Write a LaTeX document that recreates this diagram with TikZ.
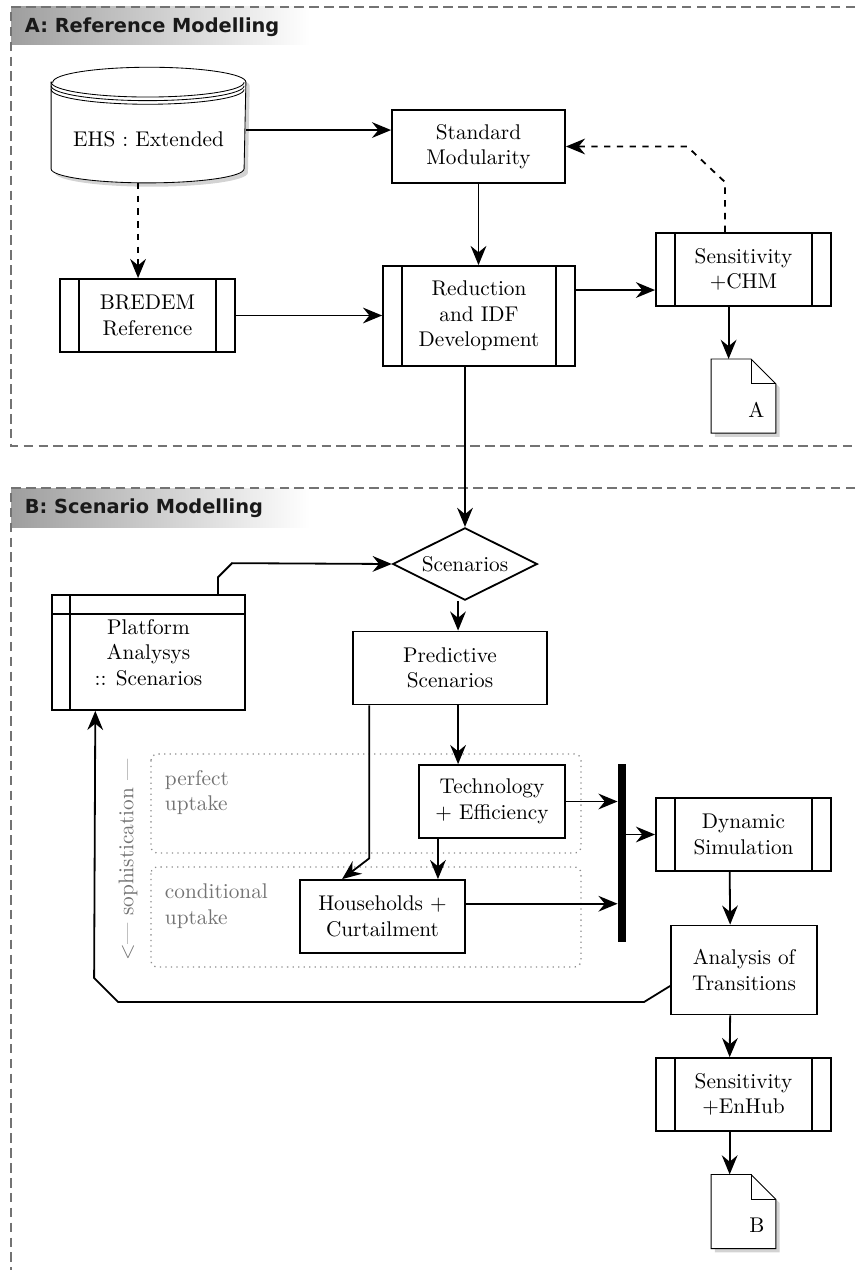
\documentclass[tikz,border=0pt]{standalone}
\usepackage{fontspec}
\newfontfamily\titlefont{DejaVu Sans}
\usetikzlibrary{arrows.meta,shapes.geometric,shadows}

\pgfdeclarelayer{background}
\pgfsetlayers{background,main}

\tikzset{
  box/.style={draw, align=center, minimum height=34.3pt},
  proc/.style={box, path picture={
      \draw ([xshift=8.9pt]path picture bounding box.north west) -- ([xshift=8.9pt]path picture bounding box.south west);
      \draw ([xshift=-8.9pt]path picture bounding box.north east) -- ([xshift=-8.9pt]path picture bounding box.south east);}},
  store/.style={box, path picture={
      \draw ([xshift=8.5pt]path picture bounding box.north west) -- ([xshift=8.5pt]path picture bounding box.south west);
      \draw ([yshift=-9pt]path picture bounding box.north west) -- ([yshift=-9pt]path picture bounding box.north east);}},
  decision/.style={draw, diamond, aspect=2, inner sep=0pt, minimum width=68pt, minimum height=34pt},
  docbox/.style={minimum width=29.6pt, minimum height=34pt},
  arr/.style={-{Stealth[length=9pt,width=7.4pt,inset=3pt]}},
  panelframe/.style={draw=black!55, dash pattern=on 4.5pt off 2.5pt, line width=0.6pt},
  zone/.style={draw=black!45, dotted, rounded corners=3pt, line width=0.6pt},
  note/.style={text=black!55, align=left, anchor=north west},
  paneltitle/.style={font=\titlefont\bfseries\fontsize{9.1}{11}\selectfont, anchor=west, text=black!90},
  softshadow/.style={drop shadow={opacity=0.35, shadow xshift=1.8pt, shadow yshift=-1.8pt}},
}

% page outline with folded corner
\newcommand{\docoutline}[1]{%
  \filldraw[fill=white, softshadow] (#1.south west) -- (#1.north west) -- ([xshift=-11.7pt]#1.north east)
    -- ([yshift=-11.7pt]#1.north east) -- (#1.south east) -- cycle;
  \draw ([xshift=-11.7pt]#1.north east) |- ([yshift=-11.7pt]#1.north east);}

\begin{document}
\begin{tikzpicture}[x=0.47pt, y=-0.47pt, line width=0.85pt]
    \useasboundingbox (0,0) rectangle (855,1270);

    % A: reference modelling
    \node[paneltitle] (titleA) at (17,27) {A: Reference Modelling};
    \node[minimum width=90.7pt, minimum height=40.4pt] (ehs) at (148.5,139) {EHS : Extended};
    \node[box, minimum width=81.3pt] (std) at (478.5,146.5) {Standard\\Modularity};
    \node[proc, minimum width=82.3pt] (bredem) at (147.5,315.5) {BREDEM\\Reference};
    \node[proc, minimum width=90.2pt, minimum height=47pt] (red) at (479,316) {Reduction\\and IDF\\Development};
    \node[proc, minimum width=82.3pt] (sens) at (743.5,269.5) {Sensitivity\\+CHM};
    \node[docbox, label={[anchor=south east, xshift=-5pt, yshift=7pt, inner sep=0pt]south east:A}] (docA) at (743.5,396) {};

    \draw[arr] ([yshift=4.2pt]ehs.east) -- ([yshift=4.2pt]ehs.east -| std.west);
    \draw[arr, dashed] ([xshift=-4.9pt]ehs.south) -- ([xshift=-4.9pt]ehs.south |- bredem.north);
    \draw[arr] (std.south) -- (std.south |- red.north);
    \draw[arr] (bredem.east) -- (bredem.east -| red.west);
    \draw[arr] ([yshift=12.2pt]red.east) -- ([yshift=12.2pt]red.east -| sens.west);
    \draw[arr, dashed] ([xshift=-8.7pt]sens.north) -- ++(0,-50) -- ([xshift=57pt]std.east) -- (std.east);
    \draw[arr] ([xshift=-7pt]sens.south) -- ([xshift=-7pt]docA.north);

    % B: scenario modelling
    \node[paneltitle] (titleB) at (17,508) {B: Scenario Modelling};
    \node[decision] (scen) at (465,564) {Scenarios};
    \node[box, minimum width=91.2pt] (pred) at (450,668) {Predictive\\Scenarios};
    \node[store, minimum width=90.7pt, minimum height=54pt] (plat) at (148.5,652.5) {Platform\\Analysys\\:: Scenarios};
    \node[box, minimum width=68.6pt] (tech) at (492,801.5) {Technology\\+ Efficiency};
    \node[box, minimum width=77.5pt] (hh) at (382.5,916.5) {Households +\\Curtailment};
    \node[fill=black, inner sep=0pt, minimum width=3.3pt, minimum height=83.7pt] (bar) at (622,853) {};
    \node[proc, minimum width=82.3pt] (dyn) at (743.5,834.5) {Dynamic\\Simulation};
    \node[box, minimum width=68.6pt, minimum height=41.8pt] (ana) at (744,970) {Analysis of\\Transitions};
    \node[proc, minimum width=82.3pt] (sensB) at (743.5,1094.5) {Sensitivity\\+EnHub};
    \node[docbox, label={[anchor=south east, xshift=-5pt, yshift=7pt, inner sep=0pt]south east:B}] (docB) at (743.5,1211.5) {};

    \node[note] (perfect) at (157,762) {perfect\\uptake};
    \node[note] (cond) at (157,876) {conditional\\uptake};
    \node[text=black!55, rotate=90] (soph) at (128,860) {<--- sophistication ---};

    \draw[arr] (scen.north |- red.south) -- (scen.north);
    \draw[arr] ([xshift=-3.3pt]scen.south) -- ([xshift=3.8pt]pred.north);
    \draw[arr] ([xshift=32.7pt]plat.north) -- ++(0,-17) -- ++(14,-14) -- (scen.west);
    \draw[arr] ([xshift=3.8pt]pred.south) -- ([xshift=3.8pt]pred.south |- tech.north);
    \draw[arr] ([xshift=-38pt]pred.south) -- ++(0,153) -- ([xshift=-19pt]hh.north);
    \draw[arr] ([xshift=-25.4pt]tech.south) -- ([xshift=-25.4pt]tech.south |- hh.north);
    \draw[arr] (tech.east) -- (tech.east -| bar.west);
    \draw[arr] ([yshift=6pt]hh.east) -- ([yshift=6pt]hh.east -| bar.west);
    \draw[arr] (bar.east |- dyn.west) -- (dyn.west);
    \draw[arr] ([xshift=-6.5pt]dyn.south) -- ([xshift=-6.5pt]ana.north);
    \draw[arr] ([xshift=-6.5pt]ana.south) -- ([xshift=-6.5pt]sensB.north);
    \draw[arr] ([xshift=-6.5pt]sensB.south) -- ([xshift=-6.5pt]docB.north);
    \draw[arr] ([yshift=-7.5pt]ana.west) -- ++(-26,16) -- ++(-526,0) -- ++(-24,-24) -- ([xshift=-25pt]plat.south);

    \begin{pgfonlayer}{background}
        % panels
        \shade[left color=black!38, right color=white] (11,7) rectangle (310,45);
        \shade[left color=black!38, right color=white] (11,488) rectangle (310,527);
        \draw[panelframe] (870,7) -- (11,7) -- (11,446) -- (870,446);
        \draw[panelframe] (870,488) -- (11,488) -- (11,1285);
        \draw[zone] (151,754) rectangle (581,853);
        \draw[zone] (151,867) rectangle (581,967);

        % drum for the survey data
        \filldraw[fill=white, softshadow] ([yshift=6.1pt]ehs.north west) -- ([yshift=6.6pt]ehs.south west)
            arc[start angle=180, end angle=360, x radius=45.35pt, y radius=6.6pt]
            -- ([yshift=6.1pt]ehs.north east) arc[start angle=0, end angle=180, x radius=45.35pt, y radius=7pt] -- cycle;
        \foreach \d in {6.1pt,4.4pt,2.7pt}
            \draw ([yshift=\d]ehs.north west) arc[start angle=180, end angle=360, x radius=45.35pt, y radius=7pt];

        \docoutline{docA}
        \docoutline{docB}
    \end{pgfonlayer}
\end{tikzpicture}
\end{document}
